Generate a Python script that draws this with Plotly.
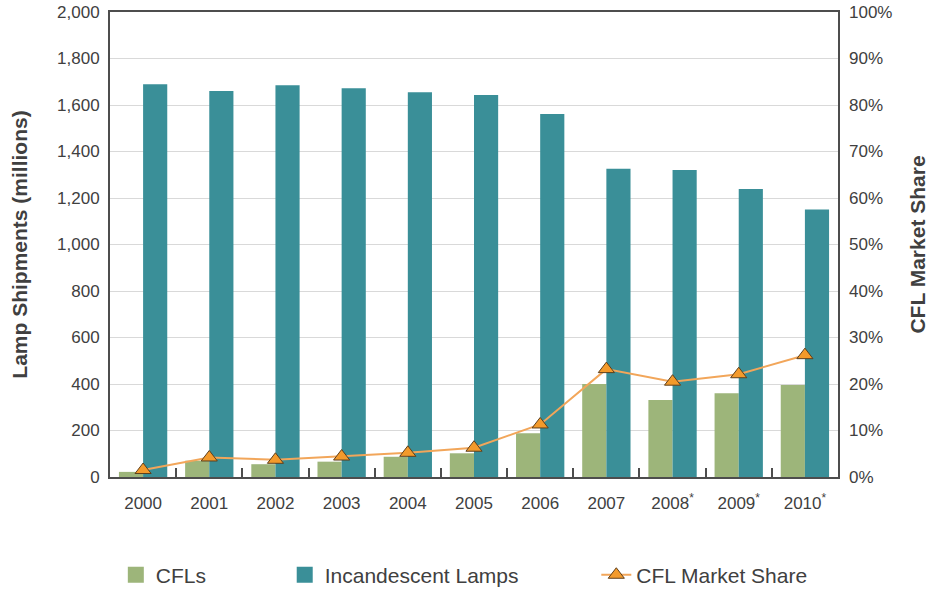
import plotly.graph_objects as go

years = ["2000", "2001", "2002", "2003", "2004", "2005", "2006", "2007",
         "2008<sup>*</sup>", "2009<sup>*</sup>", "2010<sup>*</sup>"]
cfl_shipments = [22, 70, 55, 66, 87, 102, 188, 400, 331, 360, 396]
incandescent_shipments = [1689, 1660, 1685, 1672, 1655, 1643, 1561, 1326, 1320, 1239, 1151]
cfl_share_pct = [1.5, 4.2, 3.7, 4.4, 5.2, 6.3, 11.3, 23.2, 20.5, 22.1, 26.2]

left_ticks = [0, 200, 400, 600, 800, 1000, 1200, 1400, 1600, 1800, 2000]
left_tick_labels = ["0", "200", "400", "600", "800", "1,000", "1,200", "1,400", "1,600", "1,800", "2,000"]
right_ticks = [0, 10, 20, 30, 40, 50, 60, 70, 80, 90, 100]
right_tick_labels = [f"{v}%" for v in right_ticks]

GREEN = "#9DB57A"
TEAL = "#3A8F98"
ORANGE_LINE = "#F2A65A"
ORANGE_FILL = "#F39A2B"
TEXT = "#404040"
FONT = "Liberation Sans, Arial, sans-serif"

fig = go.Figure()

fig.add_trace(go.Bar(x=years, y=cfl_shipments, name="CFLs", marker_color=GREEN,
                     marker_line_width=0, showlegend=False, legendgroup="cfl"))
fig.add_trace(go.Bar(x=years, y=incandescent_shipments, name="Incandescent Lamps",
                     marker_color=TEAL, marker_line_width=0, showlegend=False,
                     legendgroup="inc"))
fig.add_trace(go.Scatter(x=years, y=cfl_share_pct, name="CFL Market Share", yaxis="y2",
                         mode="lines+markers",
                         line=dict(color=ORANGE_LINE, width=2),
                         marker=dict(symbol="triangle-up", size=14, color=ORANGE_FILL,
                                     line=dict(color="#5e3f1c", width=1)),
                         legend="legend3"))

# legend entries (linked to the bars through legend groups)
fig.add_trace(go.Scatter(x=[None], y=[None], mode="markers", name="CFLs",
                         marker=dict(symbol="square", size=16, color=GREEN),
                         legendgroup="cfl", legend="legend"))
fig.add_trace(go.Scatter(x=[None], y=[None], mode="markers", name="Incandescent Lamps",
                         marker=dict(symbol="square", size=16, color=TEAL),
                         legendgroup="inc", legend="legend2"))

legend_common = dict(orientation="h", yanchor="middle", y=-0.211, xanchor="left",
                     font=dict(family=FONT, size=21, color=TEXT),
                     bgcolor="rgba(0,0,0,0)", itemsizing="trace")

fig.update_layout(
    width=933, height=590,
    margin=dict(l=110, r=95, t=12, b=113, autoexpand=False),
    paper_bgcolor="white", plot_bgcolor="white",
    font=dict(family=FONT, color=TEXT),
    barmode="group", bargap=0.27, bargroupgap=0,
    legend=dict(x=0.008, **legend_common),
    legend2=dict(x=0.24, **legend_common),
    legend3=dict(x=0.668, **legend_common),
    xaxis=dict(
        type="category", automargin=False, range=[-0.5, len(years) - 0.5],
        showline=True, linecolor="#4d4d4d", linewidth=2, mirror=True,
        ticks="inside", tickson="boundaries", ticklen=9, tickcolor="#4d4d4d", tickwidth=2,
        tickfont=dict(size=17, color=TEXT), ticklabelstandoff=10,
        showgrid=False,
    ),
    yaxis=dict(
        range=[0, 2000], tickvals=left_ticks, ticktext=left_tick_labels, automargin=False,
        showline=True, linecolor="#4d4d4d", linewidth=2, mirror=True,
        showgrid=True, gridcolor="#d9d9d9", gridwidth=1,
        ticks="", tickfont=dict(size=17, color=TEXT), ticklabelstandoff=5,
        title=dict(text="<b>Lamp Shipments (millions)</b>", standoff=24,
                   font=dict(size=21, color=TEXT)),
        zeroline=False,
    ),
    yaxis2=dict(
        range=[0, 100], tickvals=right_ticks, ticktext=right_tick_labels, automargin=False,
        overlaying="y", side="right", showgrid=False, showline=False,
        ticks="", tickfont=dict(size=17, color=TEXT), ticklabelstandoff=10,
        title=dict(text="<b>CFL Market Share</b>", standoff=18,
                   font=dict(size=21, color=TEXT)),
        zeroline=False,
    ),
)

fig.write_html("out.html", config={"displayModeBar": False},
               post_script="document.body.style.margin='0';document.body.style.overflow='hidden';")
